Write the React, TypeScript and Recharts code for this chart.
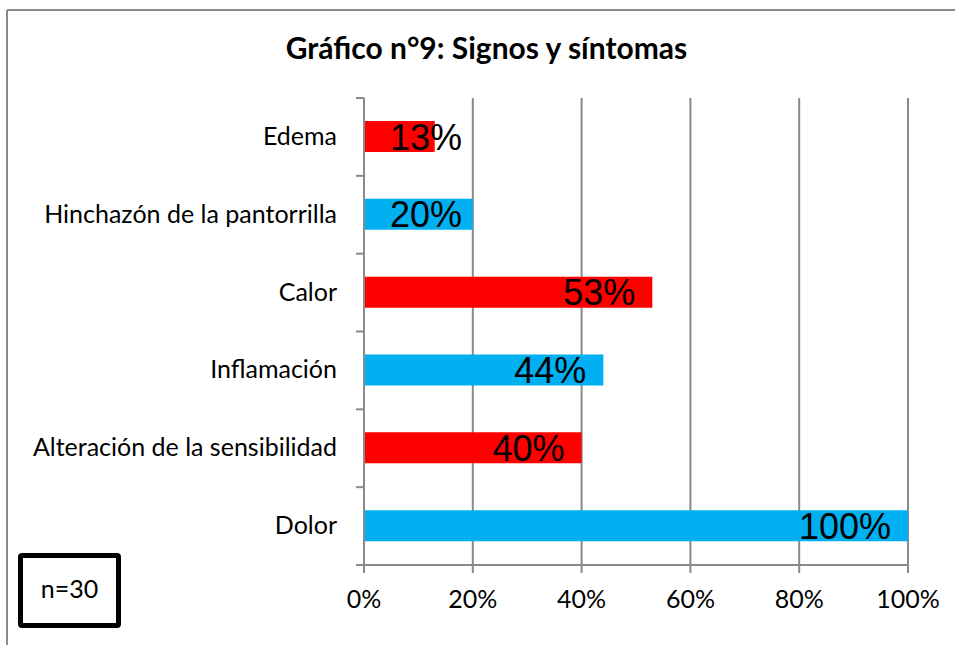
import { BarChart, Bar, XAxis, YAxis, CartesianGrid, Cell, LabelList } from 'recharts';

const categories = [
  'Edema',
  'Hinchazón de la pantorrilla',
  'Calor',
  'Inflamación',
  'Alteración de la sensibilidad',
  'Dolor',
];
const shares = [0.13, 0.2, 0.53, 0.44, 0.4, 1.0];
const xTicks = [0, 0.2, 0.4, 0.6, 0.8, 1];
const sampleNote = 'n=30';
const title = 'Gráfico n°9: Signos y síntomas';

const barColors = ['#FF0000', '#00B0F0'];

const W = 955;
const H = 645;
const PLOT_LEFT = 364;
const PLOT_RIGHT = 908;
const PLOT_TOP = 98;
const PLOT_BOTTOM = 565;
const BAND = (PLOT_BOTTOM - PLOT_TOP) / categories.length;
const GRAY = '#8a8a8a';
const LABEL_FONT = 'Lato, "Open Sans", sans-serif';
const VALUE_FONT = '"Liberation Sans", Arial, sans-serif';

const data = categories.map((name, i) => ({ name, value: shares[i] }));

const pct = (v: number) => `${Math.round(v * 100)}%`;

const CategoryTick = ({ y, payload, index }: any) => {
  const last = index === categories.length - 1;
  return (
    <g>
      <line x1={PLOT_LEFT - 8} x2={PLOT_LEFT} y1={y - BAND / 2} y2={y - BAND / 2} stroke={GRAY} strokeWidth={2} />
      {last && (
        <line x1={PLOT_LEFT - 8} x2={PLOT_LEFT} y1={y + BAND / 2} y2={y + BAND / 2} stroke={GRAY} strokeWidth={2} />
      )}
      <text
        x={PLOT_LEFT - 27}
        y={y + 8}
        textAnchor="end"
        fontFamily={LABEL_FONT}
        fontSize={25}
        fill="#000"
      >
        {payload.value}
      </text>
    </g>
  );
};

// excel style "inside end" label, pushed right when the bar is too short
const ValueLabel = (props: any) => {
  const { x, y, width, height, value } = props;
  const txt = pct(value);
  const fs = 36;
  const digits = txt.length - 1;
  const tw = (digits * 0.556 + 0.889) * fs;
  let end = x + width - 17;
  if (end - tw < x + 26) end = x + 26 + tw;
  return (
    <text
      x={end}
      y={y + height / 2 + 13}
      textAnchor="end"
      fontFamily={VALUE_FONT}
      fontSize={fs}
      fill="#000"
    >
      {txt}
    </text>
  );
};

export default function App() {
  return (
    <div style={{ position: 'absolute', left: 0, top: 0, width: W, height: H, background: '#fff', overflow: 'hidden' }}>
      <BarChart
        width={W}
        height={H}
        data={data}
        layout="vertical"
        margin={{ top: PLOT_TOP, right: W - PLOT_RIGHT, bottom: 0, left: 0 }}
        barSize={31}
      >
        <CartesianGrid horizontal={false} stroke={GRAY} strokeWidth={2} />
        <XAxis
          type="number"
          domain={[0, 1]}
          ticks={xTicks}
          tickFormatter={pct}
          height={H - PLOT_BOTTOM}
          axisLine={{ stroke: GRAY, strokeWidth: 2 }}
          tickLine={{ stroke: GRAY, strokeWidth: 2 }}
          tickSize={8}
          tickMargin={17}
          tick={{ fontFamily: LABEL_FONT, fontSize: 25, fill: '#000' }}
          interval={0}
        />
        <YAxis
          type="category"
          dataKey="name"
          width={PLOT_LEFT}
          axisLine={{ stroke: GRAY, strokeWidth: 2 }}
          tickLine={false}
          tick={<CategoryTick />}
          interval={0}
        />
        <Bar dataKey="value" isAnimationActive={false}>
          {data.map((d, i) => (
            <Cell key={d.name} fill={barColors[i % 2]} />
          ))}
          <LabelList dataKey="value" content={<ValueLabel />} />
        </Bar>
      </BarChart>

      <svg width={W} height={H} style={{ position: 'absolute', left: 0, top: 0, pointerEvents: 'none' }}>
        <line x1={7} y1={10} x2={W} y2={10} stroke={GRAY} strokeWidth={2} />
        <line x1={7} y1={10} x2={7} y2={H} stroke={GRAY} strokeWidth={2} />
        <text x={486.5} y={59} textAnchor="middle" fontFamily={LABEL_FONT} fontWeight={700} fontSize={30} fill="#000">
          {title}
        </text>
      </svg>

      <div
        style={{
          position: 'absolute',
          left: 18,
          top: 553,
          width: 103,
          height: 75,
          boxSizing: 'border-box',
          border: '5px solid #000',
          borderRadius: 4,
          display: 'flex',
          alignItems: 'center',
          justifyContent: 'center',
          fontFamily: LABEL_FONT,
          fontSize: 25,
          color: '#000',
          paddingBottom: 6,
        }}
      >
        {sampleNote}
      </div>
    </div>
  );
}
